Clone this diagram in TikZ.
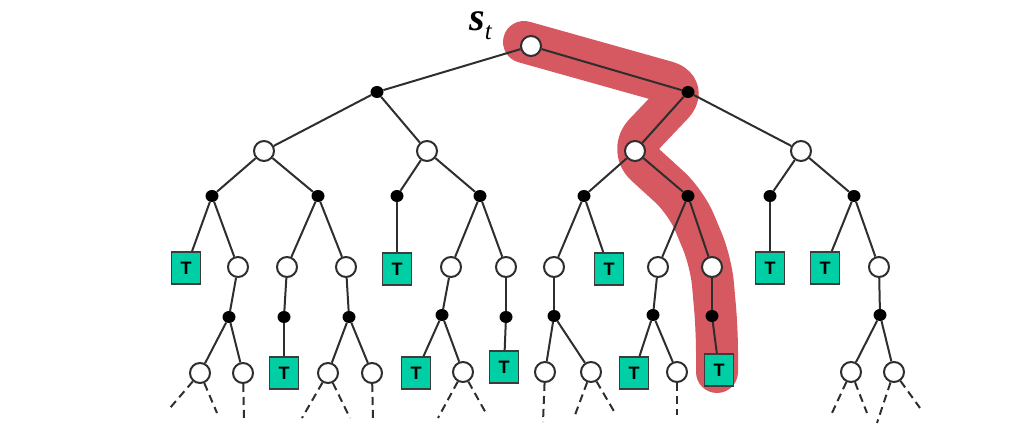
\documentclass[tikz,border=0pt]{standalone}
\usepackage{fontspec}
\setmainfont{Liberation Serif}
\setsansfont{Liberation Sans}
\usetikzlibrary{shapes.geometric}
\begin{document}
\begin{tikzpicture}[x=1pt,y=-1pt,
  ln/.style={draw=linecol,line width=2},
  dl/.style={draw=linecol,line width=2,dash pattern=on 8 off 5},
  onode/.style={circle,draw=linecol,line width=2,fill=white,minimum size=20,inner sep=0},
  bnode/.style={ellipse,fill=black,minimum width=13,minimum height=12,inner sep=0},
  tnode/.style={rectangle,draw=boxcol,line width=1.6,fill=tcol,minimum width=29,minimum height=32,inner sep=0,font=\sffamily\bfseries\fontsize{18}{18}\selectfont},
  hl/.style={draw=hlcol,line width=42,line cap=round,line join=round,rounded corners=22}
]
\definecolor{linecol}{HTML}{2E2E2E}
\definecolor{boxcol}{HTML}{3C3C3C}
\definecolor{tcol}{RGB}{0,206,164}
\definecolor{hlcol}{RGB}{214,88,97}
\useasboundingbox (0,0) rectangle (1028,438);
% highlight
\draw[hl] (524,42) -- (688,88) -- (629,150) -- (686,202) -- (711,262) -- (717,330) -- (717,372);
% nodes
\node[onode] (r) at (531,46) {};
\node[anchor=base west,inner sep=0] (lbl) at (469,31) {\fontsize{40}{40}\selectfont\bfseries\itshape s\raisebox{-9pt}{\fontsize{25}{25}\selectfont\mdseries t}};
\node[bnode] (A) at (377,92) {};
\node[bnode] (B) at (688,92) {};
\node[onode] (A1) at (264,151) {};
\node[onode] (A2) at (427,151) {};
\node[onode] (B1) at (635,151) {};
\node[onode] (B2) at (801,151) {};
\node[bnode] (c1) at (212,196) {};
\node[bnode] (c2) at (318,196) {};
\node[bnode] (c3) at (397,196) {};
\node[bnode] (c4) at (480,196) {};
\node[bnode] (c5) at (584,196) {};
\node[bnode] (c6) at (688,196) {};
\node[bnode] (c7) at (770,196) {};
\node[bnode] (c8) at (854,196) {};
% level 4
\node[tnode] (t1) at (186,268) {T};
\node[onode] (o1) at (238,267) {};
\node[onode] (o2) at (287,267) {};
\node[onode] (o3) at (346,267) {};
\node[tnode] (t2) at (397,269) {T};
\node[onode] (o4) at (451,267) {};
\node[onode] (o5) at (506,267) {};
\node[onode] (o6) at (554,267) {};
\node[tnode] (t3) at (609,269) {T};
\node[onode] (o7) at (658,267) {};
\node[onode] (o8) at (712,267) {};
\node[tnode] (t4) at (770,268) {T};
\node[tnode] (t5) at (825,268) {T};
\node[onode] (o9) at (879,267) {};
% level 5
\node[bnode] (e1) at (229,317) {};
\node[bnode] (e2) at (284,317) {};
\node[bnode] (e3) at (349,317) {};
\node[bnode] (e4) at (442,315) {};
\node[bnode] (e5) at (506,317) {};
\node[bnode] (e6) at (554,316) {};
\node[bnode] (e7) at (653,315) {};
\node[bnode] (e8) at (712,316) {};
\node[bnode] (e9) at (880,315) {};
% level 6
\node[onode] (f1) at (200,373) {};
\node[onode] (f2) at (243,373) {};
\node[tnode] (ft1) at (284,373) {T};
\node[onode] (f3) at (328,373) {};
\node[onode] (f4) at (372,373) {};
\node[tnode] (ft2) at (416,373) {T};
\node[onode] (f5) at (463,372) {};
\node[tnode] (ft3) at (504,367) {T};
\node[onode] (f6) at (545,372) {};
\node[onode] (f7) at (591,372) {};
\node[tnode] (ft4) at (634,373) {T};
\node[onode] (f8) at (677,372) {};
\node[tnode] (ft5) at (719,370) {T};
\node[onode] (f9) at (851,372) {};
\node[onode] (f10) at (894,372) {};
% dashed ends
\coordinate (g1) at (170,408);
\coordinate (g2) at (217,413);
\coordinate (g3) at (244,418);
\coordinate (g4) at (302,418);
\coordinate (g5) at (350,418);
\coordinate (g6) at (373,422);
\coordinate (g7) at (438,418);
\coordinate (g8) at (487,415);
\coordinate (g9) at (543,422);
\coordinate (g10) at (575,415);
\coordinate (g11) at (615,413);
\coordinate (g12) at (677,415);
\coordinate (g13) at (832,413);
\coordinate (g14) at (867,413);
\coordinate (g15) at (877,423);
\coordinate (g16) at (920,408);
% edges
\draw[ln] (r) -- (A); \draw[ln] (r) -- (B);
\draw[ln] (A) -- (A1); \draw[ln] (A) -- (A2);
\draw[ln] (B) -- (B1); \draw[ln] (B) -- (B2);
\draw[ln] (A1) -- (c1); \draw[ln] (A1) -- (c2);
\draw[ln] (A2) -- (c3); \draw[ln] (A2) -- (c4);
\draw[ln] (B1) -- (c5); \draw[ln] (B1) -- (c6);
\draw[ln] (B2) -- (c7); \draw[ln] (B2) -- (c8);
\draw[ln] (c1) -- (t1); \draw[ln] (c1) -- (o1);
\draw[ln] (c2) -- (o2); \draw[ln] (c2) -- (o3);
\draw[ln] (c3) -- (t2);
\draw[ln] (c4) -- (o4); \draw[ln] (c4) -- (o5);
\draw[ln] (c5) -- (o6); \draw[ln] (c5) -- (t3);
\draw[ln] (c6) -- (o7); \draw[ln] (c6) -- (o8);
\draw[ln] (c7) -- (t4);
\draw[ln] (c8) -- (t5); \draw[ln] (c8) -- (o9);
\draw[ln] (o1) -- (e1); \draw[ln] (o2) -- (e2); \draw[ln] (o3) -- (e3);
\draw[ln] (o4) -- (e4); \draw[ln] (o5) -- (e5); \draw[ln] (o6) -- (e6);
\draw[ln] (o7) -- (e7); \draw[ln] (o8) -- (e8); \draw[ln] (o9) -- (e9);
\draw[ln] (e1) -- (f1); \draw[ln] (e1) -- (f2);
\draw[ln] (e2) -- (ft1);
\draw[ln] (e3) -- (f3); \draw[ln] (e3) -- (f4);
\draw[ln] (e4) -- (ft2); \draw[ln] (e4) -- (f5);
\draw[ln] (e5) -- (ft3);
\draw[ln] (e6) -- (f6); \draw[ln] (e6) -- (f7);
\draw[ln] (e7) -- (ft4); \draw[ln] (e7) -- (f8);
\draw[ln] (e8) -- (ft5);
\draw[ln] (e9) -- (f9); \draw[ln] (e9) -- (f10);
\draw[dl] (f1) -- (g1); \draw[dl] (f1) -- (g2);
\draw[dl] (f2) -- (g3);
\draw[dl] (f3) -- (g4); \draw[dl] (f3) -- (g5);
\draw[dl] (f4) -- (g6);
\draw[dl] (f5) -- (g7); \draw[dl] (f5) -- (g8);
\draw[dl] (f6) -- (g9);
\draw[dl] (f7) -- (g10); \draw[dl] (f7) -- (g11);
\draw[dl] (f8) -- (g12);
\draw[dl] (f9) -- (g13); \draw[dl] (f9) -- (g14);
\draw[dl] (f10) -- (g15); \draw[dl] (f10) -- (g16);
\end{tikzpicture}
\end{document}
